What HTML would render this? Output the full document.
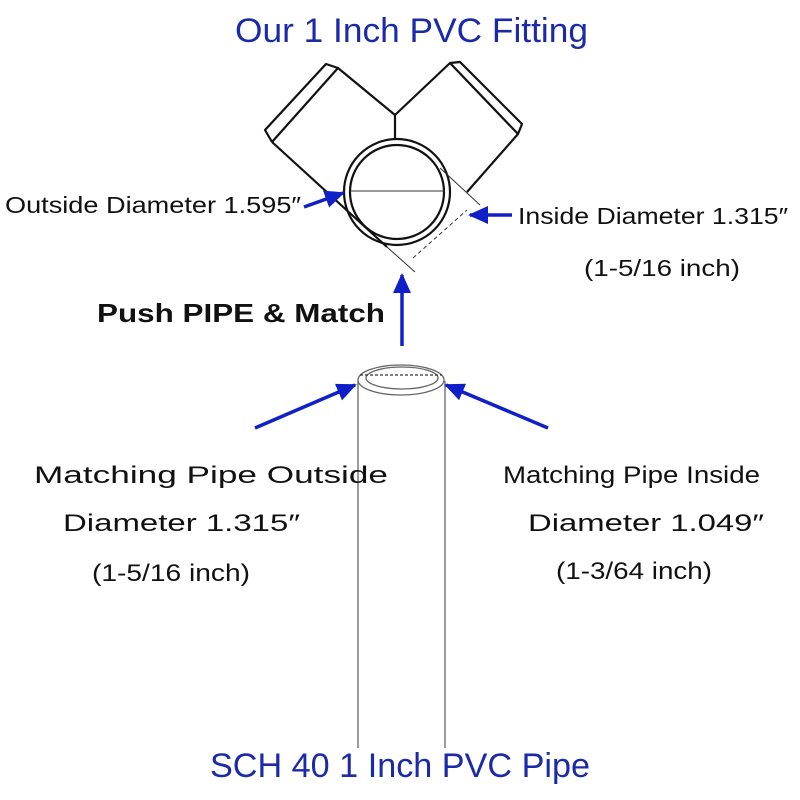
<!DOCTYPE html>
<html><head><style>html,body{margin:0;padding:0;background:#fff}svg{display:block}</style></head><body>
<svg width="800" height="800" viewBox="0 0 800 800" xmlns="http://www.w3.org/2000/svg" font-family="Liberation Sans, sans-serif">
<defs>
<marker id="ah" markerWidth="20" markerHeight="20" refX="18" refY="10" orient="auto" markerUnits="userSpaceOnUse" viewBox="0 0 20 20"><path d="M0,1 L20,10 L0,19 z" fill="#1020c8"/></marker>
</defs>
<text x="235" y="42" font-size="34" fill="#1a2aa8" textLength="353" lengthAdjust="spacingAndGlyphs">Our 1 Inch PVC Fitting</text>
<g fill="none" stroke="#111" stroke-width="2.2" stroke-linejoin="round">
<path d="M272,142 L265,130 L326,64 L338,68 L272,142"/>
<path d="M338,68 L395,115 L450,63 L460,62 L522,124 L518,134 L450,63"/>
<line x1="395" y1="115" x2="395" y2="140"/>
<line x1="272" y1="142" x2="387" y2="247"/>
<line x1="518" y1="134" x2="467" y2="192"/>
<circle cx="397" cy="192" r="53"/>
<circle cx="397" cy="192" r="47"/>
</g>
<g stroke="#333" stroke-width="1">
<line x1="350" y1="191" x2="445" y2="191"/>
<line x1="387" y1="247" x2="415" y2="272"/>
<line x1="440" y1="168" x2="480" y2="205"/>
<line x1="413" y1="258" x2="467" y2="210" stroke-dasharray="4,3"/>
</g>
<text x="5" y="213" font-size="23" fill="#111" textLength="296" lengthAdjust="spacingAndGlyphs">Outside Diameter 1.595″</text>
<line x1="304" y1="207" x2="343" y2="193" stroke="#1020c8" stroke-width="3.5" marker-end="url(#ah)"/>
<text x="518" y="224" font-size="23" fill="#111" textLength="270" lengthAdjust="spacingAndGlyphs">Inside Diameter 1.315″</text>
<line x1="512" y1="215" x2="470" y2="215" stroke="#1020c8" stroke-width="3.5" marker-end="url(#ah)"/>
<text x="584" y="276" font-size="23" fill="#111" textLength="156" lengthAdjust="spacingAndGlyphs">(1-5/16 inch)</text>
<line x1="402" y1="346" x2="402" y2="275" stroke="#1020c8" stroke-width="3.5" marker-end="url(#ah)"/>
<text x="97" y="322" font-size="26" font-weight="bold" fill="#111" textLength="288" lengthAdjust="spacingAndGlyphs">Push PIPE &amp; Match</text>
<g fill="none" stroke="#666" stroke-width="1.3">
<line x1="358" y1="381" x2="358" y2="748"/>
<line x1="445" y1="381" x2="445" y2="748"/>
<ellipse cx="401" cy="380" rx="43" ry="15"/>
<ellipse cx="402" cy="378" rx="36" ry="11"/>
<line x1="360" y1="375" x2="442" y2="375" stroke-dasharray="3,2" stroke="#333"/>
</g>
<line x1="255" y1="428" x2="355" y2="385" stroke="#1020c8" stroke-width="3.5" marker-end="url(#ah)"/>
<line x1="548" y1="428" x2="446" y2="385" stroke="#1020c8" stroke-width="3.5" marker-end="url(#ah)"/>
<g font-size="24" fill="#111">
<text x="34" y="483" textLength="354" lengthAdjust="spacingAndGlyphs">Matching Pipe Outside</text>
<text x="63" y="531" textLength="237" lengthAdjust="spacingAndGlyphs">Diameter 1.315″</text>
<text x="92" y="581" textLength="158" lengthAdjust="spacingAndGlyphs">(1-5/16 inch)</text>
<text x="503" y="483" textLength="257" lengthAdjust="spacingAndGlyphs">Matching Pipe Inside</text>
<text x="528" y="531" textLength="236" lengthAdjust="spacingAndGlyphs">Diameter 1.049″</text>
<text x="556" y="579" textLength="156" lengthAdjust="spacingAndGlyphs">(1-3/64 inch)</text>
</g>
<text x="210" y="777" font-size="34" fill="#1a2aa8" textLength="380" lengthAdjust="spacingAndGlyphs">SCH 40 1 Inch PVC Pipe</text>
</svg>
</body></html>
